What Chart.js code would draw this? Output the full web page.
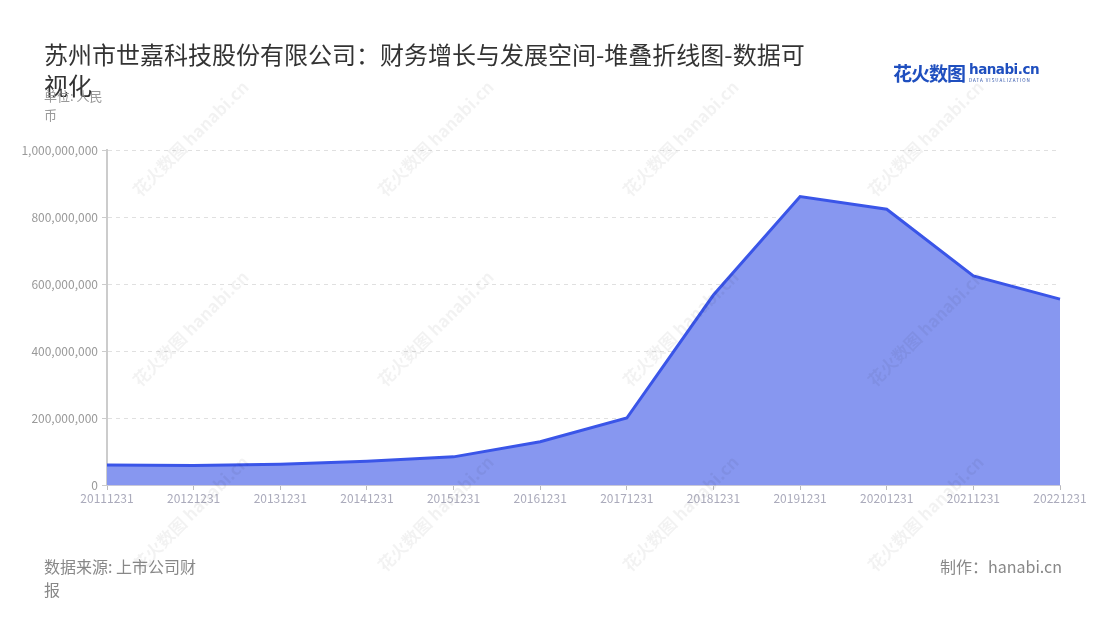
<!DOCTYPE html>
<html>
<head>
<meta charset="utf-8">
<script src="https://cdn.jsdelivr.net/npm/chart.js@4.4.1/dist/chart.umd.min.js"></script>
<style>
  html, body { margin:0; padding:0; background:#fff; }
  #wrap { position:relative; width:1100px; height:620px; overflow:hidden; font-family:"Noto Sans CJK SC","Noto Sans",sans-serif; }
  canvas { position:absolute; left:0; top:0; }
  .t { position:absolute; }
  #title { left:44px; top:38px; width:770px; font-size:24px; line-height:31px; color:#333; }
  #unit { left:44px; top:86px; width:66px; font-size:13px; line-height:19px; color:#999; }
  #src { left:44px; top:555px; width:158px; font-size:16px; line-height:23px; color:#888; }
  #made { right:38px; top:555px; font-size:16px; line-height:23px; color:#888; }
  #logo { left:893px; top:58px; color:#1f4fbf; white-space:nowrap; }
  #logo .cn { font-size:19px; font-weight:700; letter-spacing:-1px; vertical-align:middle; }
  #logo .en { display:inline-block; vertical-align:middle; margin-left:4px; line-height:1; }
  #logo .en b { font-family:"DejaVu Sans",sans-serif; font-size:13.5px; font-weight:700; display:block; letter-spacing:-0.5px; }
  #logo .en i { font-style:normal; font-size:4.5px; display:block; letter-spacing:1px; color:#2a4fa8; margin-top:1px; }
  .wm { position:absolute; color:rgba(0,0,0,0.05); font-size:17px; font-weight:700; white-space:nowrap; transform:rotate(-45deg); transform-origin:left center; pointer-events:none; }
</style>
</head>
<body>
<div id="wrap">
  <canvas id="c" width="1100" height="620"></canvas>
  <div class="t" id="title">苏州市世嘉科技股份有限公司：财务增长与发展空间-堆叠折线图-数据可视化</div>
  <div class="t" id="unit">单位: 人民币</div>
  <div class="t" id="logo"><span class="cn">花火数图</span><span class="en"><b>hanabi.cn</b><i>DATA VISUALIZATION</i></span></div>
  <div class="t" id="src">数据来源: 上市公司财报</div>
  <div class="t" id="made">制作：hanabi.cn</div>
</div>
<script>
const categories = ["20111231","20121231","20131231","20141231","20151231","20161231","20171231","20181231","20191231","20201231","20211231","20221231"];
const seriesValues = [60000000, 58000000, 62000000, 71000000, 84000000, 129000000, 200000000, 567000000, 861000000, 823000000, 624000000, 555000000];
const yTickMax = 1000000000;
const yTickStep = 200000000;

// faint watermarks
const wrap = document.getElementById('wrap');
[[135,180],[380,180],[625,180],[870,180],[135,370],[380,370],[625,370],[870,370],[135,555],[380,555],[625,555],[870,555]].forEach(p => {
  const d = document.createElement('div');
  d.className = 'wm';
  d.textContent = '花火数图 hanabi.cn';
  d.style.left = p[0] + 'px';
  d.style.top = p[1] + 'px';
  wrap.appendChild(d);
});

new Chart(document.getElementById('c'), {
  type: 'line',
  data: {
    labels: categories,
    datasets: [{
      data: seriesValues,
      borderColor: '#3a55e8',
      backgroundColor: 'rgba(135,151,240,1)',
      borderWidth: 3,
      fill: 'origin',
      pointRadius: 0,
      tension: 0
    }]
  },
  options: {
    responsive: false,
    animation: false,
    layout: { padding: { left: 0, top: 150, right: 40, bottom: 100 } },
    plugins: { legend: { display: false }, tooltip: { enabled: false } },
    scales: {
      x: {
        offset: false,
        grid: { display: true, drawOnChartArea: false, drawTicks: true, tickLength: 5, tickColor: '#bbb' },
        border: { color: '#c8c8d8' },
        ticks: { color: '#aab', font: { size: 12, family: '"Noto Sans CJK SC","Noto Sans",sans-serif' }, maxRotation: 0, autoSkip: false, padding: 1 },
        afterFit: s => { s.height = 35; }
      },
      y: {
        min: 0, max: yTickMax,
        grid: { color: '#e0e0e0', tickColor: '#ccc', tickLength: 5, drawOnChartArea: true },
        border: { color: '#ccc', width: 2, dash: [4, 4] },
        ticks: {
          stepSize: yTickStep, color: '#999', padding: 4,
          font: { size: 12, family: '"Noto Sans CJK SC","Noto Sans",sans-serif' },
          callback: v => Number(v).toLocaleString('en-US')
        },
        afterFit: s => { s.width = 107; }
      }
    }
  }
});
</script>
</body>
</html>
